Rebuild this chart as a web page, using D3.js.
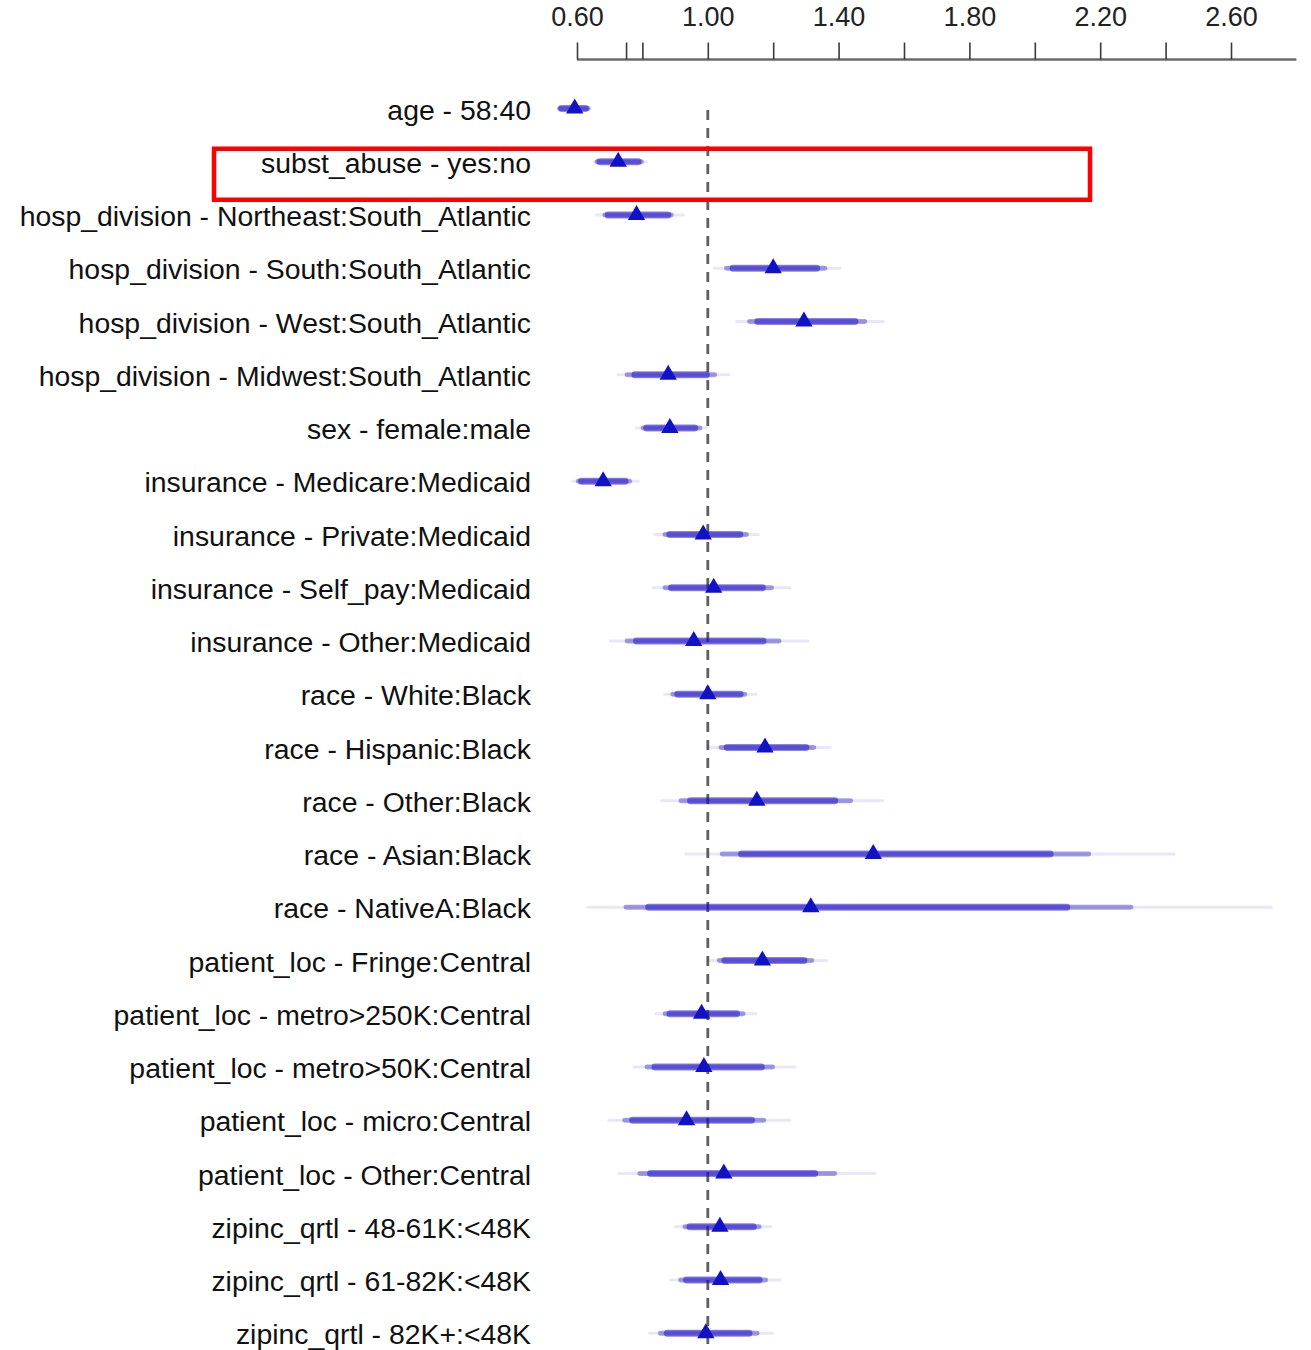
<!DOCTYPE html>
<html>
<head>
<meta charset="utf-8">
<script src="https://cdn.jsdelivr.net/npm/d3@7"></script>
<style>
  html, body { margin: 0; padding: 0; background: #ffffff; }
  svg { display: block; }
  text { font-family: "Liberation Sans", Arial, Helvetica, sans-serif; }
</style>
</head>
<body>
<div id="chart"></div>
<script>
// Odds-ratio summary: effect labels, point estimates and confidence limits
const labels = [
  "age - 58:40",
  "subst_abuse - yes:no",
  "hosp_division - Northeast:South_Atlantic",
  "hosp_division - South:South_Atlantic",
  "hosp_division - West:South_Atlantic",
  "hosp_division - Midwest:South_Atlantic",
  "sex - female:male",
  "insurance - Medicare:Medicaid",
  "insurance - Private:Medicaid",
  "insurance - Self_pay:Medicaid",
  "insurance - Other:Medicaid",
  "race - White:Black",
  "race - Hispanic:Black",
  "race - Other:Black",
  "race - Asian:Black",
  "race - NativeA:Black",
  "patient_loc - Fringe:Central",
  "patient_loc - metro>250K:Central",
  "patient_loc - metro>50K:Central",
  "patient_loc - micro:Central",
  "patient_loc - Other:Central",
  "zipinc_qrtl - 48-61K:<48K",
  "zipinc_qrtl - 61-82K:<48K",
  "zipinc_qrtl - 82K+:<48K"
];
const estimate = [0.593, 0.726, 0.782, 1.200, 1.294, 0.879, 0.884, 0.680, 0.986, 1.018, 0.957, 1.000,
                  1.175, 1.150, 1.506, 1.315, 1.167, 0.981, 0.988, 0.935, 1.049, 1.037, 1.039, 0.994];
const lower99 = [0.543, 0.654, 0.660, 1.021, 1.088, 0.726, 0.782, 0.588, 0.838, 0.833, 0.702, 0.868,
                 1.003, 0.859, 0.933, 0.633, 1.001, 0.841, 0.774, 0.698, 0.729, 0.902, 0.886, 0.823];
const upper99 = [0.639, 0.813, 0.925, 1.404, 1.536, 1.065, 0.996, 0.787, 1.154, 1.251, 1.307, 1.147,
                 1.374, 1.535, 2.426, 2.723, 1.363, 1.147, 1.266, 1.251, 1.511, 1.192, 1.220, 1.198];
const lower95 = [0.547, 0.661, 0.685, 1.057, 1.128, 0.753, 0.802, 0.604, 0.869, 0.869, 0.753, 0.893,
                 1.040, 0.918, 1.044, 0.750, 1.035, 0.869, 0.814, 0.746, 0.792, 0.930, 0.917, 0.855];
const upper95 = [0.634, 0.797, 0.888, 1.358, 1.480, 1.021, 0.976, 0.761, 1.118, 1.195, 1.218, 1.113,
                 1.324, 1.437, 2.165, 2.294, 1.318, 1.108, 1.198, 1.171, 1.388, 1.157, 1.177, 1.151];
const lower90 = [0.553, 0.670, 0.695, 1.077, 1.153, 0.777, 0.813, 0.614, 0.884, 0.889, 0.782, 0.908,
                 1.059, 0.947, 1.103, 0.819, 1.052, 0.884, 0.838, 0.770, 0.825, 0.945, 0.935, 0.876];
const upper90 = [0.626, 0.787, 0.878, 1.333, 1.450, 0.996, 0.960, 0.747, 1.098, 1.167, 1.169, 1.099,
                 1.300, 1.388, 2.047, 2.098, 1.294, 1.088, 1.164, 1.134, 1.327, 1.139, 1.157, 1.126];

// Axis ticks and which of them carry a label
const tickValues = [0.6, 0.75, 0.8, 1.0, 1.2, 1.4, 1.6, 1.8, 2.0, 2.2, 2.4, 2.6];
const tickLabels = [0.6, 1.0, 1.4, 1.8, 2.2, 2.6];
const axisMax = 2.8;
const reference = 1.0;
// Highlighted effect
const highlight = "subst_abuse - yes:no";

const W = 1311, H = 1350;
const fontSize = 28.4;

const svg = d3.select("#chart").append("svg")
  .attr("width", W).attr("height", H);

const x = d3.scaleLinear().domain([0.6, 2.6]).range([577, 1231]);
const y = d3.scalePoint().domain(labels).range([108.5, 1333.25]);

// Interval layers, widest (faintest, thinnest) first
const barColor = "rgb(30,18,200)";
const layers = [
  { lo: lower99, hi: upper99, alpha: 0.1, width: 3.2 },
  { lo: lower95, hi: upper95, alpha: 0.4, width: 4.8 },
  { lo: lower90, hi: upper90, alpha: 0.52, width: 6.8 }
];

// Top axis
const axisY = 59.5;
svg.append("line")
  .attr("x1", x(0.6)).attr("x2", x(axisMax))
  .attr("y1", axisY).attr("y2", axisY)
  .attr("stroke", "#6a6a6a").attr("stroke-width", 2.4);

const axis = d3.axisTop(x)
  .tickValues(tickValues)
  .tickSize(17)
  .tickPadding(17)
  .tickFormat(d => tickLabels.some(t => Math.abs(t - d) < 1e-9) ? d3.format(".2f")(d) : "");

const gAxis = svg.append("g")
  .attr("transform", `translate(0,${axisY})`)
  .call(axis);
gAxis.select(".domain").remove();
gAxis.selectAll(".tick line").attr("stroke", "#3a3a3a").attr("stroke-width", 1.6);
gAxis.selectAll(".tick text")
  .attr("font-size", 27)
  .attr("fill", "#222")
  .style("font-family", "'Liberation Sans', Arial, sans-serif");

// Reference line at odds ratio 1
svg.append("line")
  .attr("x1", x(reference)).attr("x2", x(reference))
  .attr("y1", 110).attr("y2", H)
  .attr("stroke", "#5f5f5f")
  .attr("stroke-width", 2.8)
  .attr("stroke-dasharray", "10,8");

// Effect labels
svg.append("g").selectAll("text")
  .data(labels)
  .join("text")
  .attr("x", 531)
  .attr("y", d => y(d) + fontSize * 0.36 + 1)
  .attr("text-anchor", "end")
  .attr("font-size", fontSize)
  .attr("fill", "#111")
  .text(d => d);

// Confidence bars
const gBars = svg.append("g");
layers.forEach(layer => {
  gBars.append("g").selectAll("line")
    .data(labels)
    .join("line")
    .attr("x1", (d, i) => x(layer.lo[i]))
    .attr("x2", (d, i) => x(layer.hi[i]))
    .attr("y1", d => y(d))
    .attr("y2", d => y(d))
    .attr("stroke", barColor)
    .attr("stroke-opacity", layer.alpha)
    .attr("stroke-width", layer.width)
    .attr("stroke-linecap", "round");
});

// Point estimates
svg.append("g").selectAll("path")
  .data(labels)
  .join("path")
  .attr("transform", (d, i) => `translate(${x(estimate[i])},${y(d)})`)
  .attr("d", d3.symbol().type(d3.symbolTriangle).size(130))
  .attr("fill", "#1111c6");

// Highlight box around the selected effect
const hy = y(highlight);
svg.append("rect")
  .attr("x", 214).attr("y", hy - 13)
  .attr("width", 1090 - 214).attr("height", 51)
  .attr("fill", "none")
  .attr("stroke", "#ff0000")
  .attr("stroke-width", 4.5);
</script>
</body>
</html>
